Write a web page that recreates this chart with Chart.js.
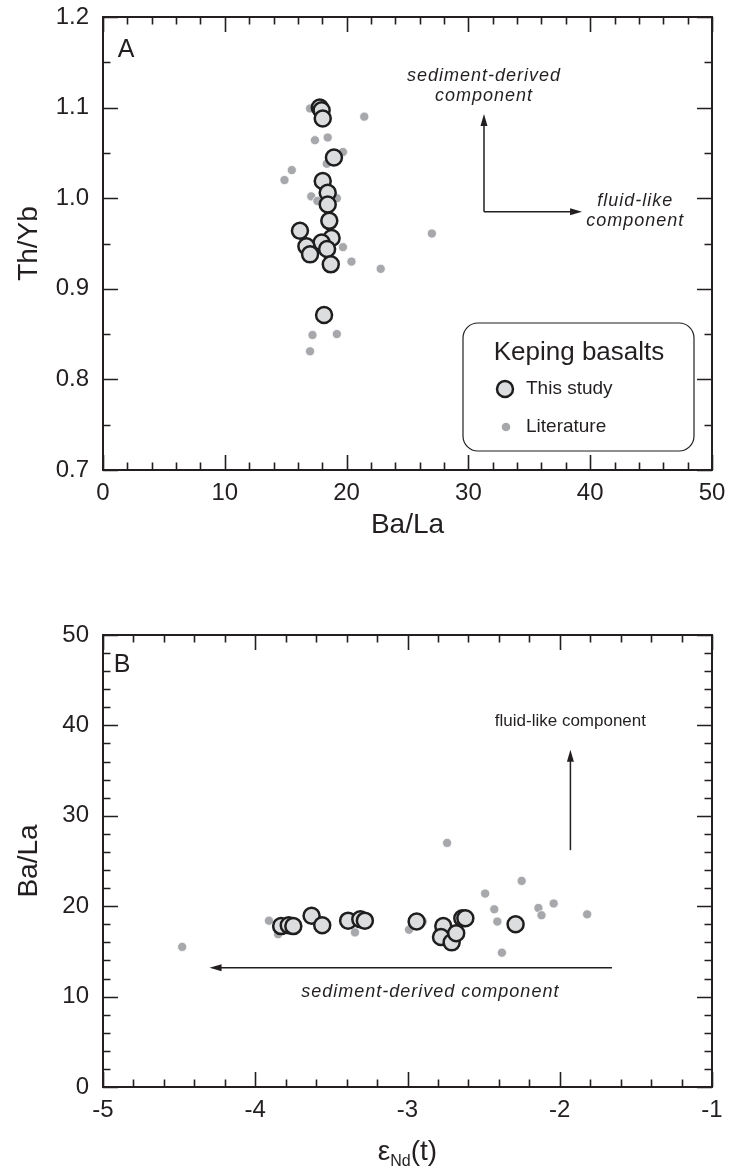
<!DOCTYPE html>
<html>
<head>
<meta charset="utf-8">
<script src="https://cdn.jsdelivr.net/npm/chart.js@4.4.1/dist/chart.umd.min.js"></script>
<style>
  body { margin: 0; background: #fff; }
  .panel { position: absolute; left: 0; width: 731px; }
</style>
</head>
<body>
<div class="panel" style="top:0;height:570px"><canvas id="chart-a"></canvas></div>
<div class="panel" style="top:590px;height:582px"><canvas id="chart-b"></canvas></div>
<script>
// Panel A: Th/Yb vs Ba/La
const studyBaLa = [17.8, 17.95, 18.04, 18.96, 18.04, 18.45, 18.45, 18.58, 16.17, 18.77, 17.95, 16.7, 18.4, 17.0, 18.7, 18.15];
const studyThYb = [1.100, 1.097, 1.088, 1.045, 1.019, 1.006, 0.993, 0.975, 0.964, 0.956, 0.951, 0.947, 0.944, 0.938, 0.927, 0.871];
const litBaLa = [17.0, 21.45, 17.4, 18.45, 19.7, 18.37, 15.5, 14.9, 17.1, 19.2, 17.6, 19.7, 20.4, 22.8, 27.0, 17.2, 19.2, 17.0];
const litThYb = [1.099, 1.090, 1.064, 1.067, 1.051, 1.038, 1.031, 1.020, 1.002, 1.000, 0.997, 0.946, 0.930, 0.922, 0.961, 0.849, 0.850, 0.831];

// Panel B: Ba/La vs eNd(t)
const studyEnd = [-3.83, -3.78, -3.75, -3.63, -3.56, -3.39, -3.31, -3.28, -2.94, -2.765, -2.78, -2.71, -2.68, -2.64, -2.62, -2.29];
const studyBaLaB = [17.8, 17.9, 17.8, 18.95, 17.9, 18.4, 18.55, 18.4, 18.3, 17.8, 16.6, 16.0, 17.0, 18.66, 18.66, 18.0];
const litEnd = [-4.48, -3.91, -3.85, -3.345, -2.74, -2.99, -2.9, -2.49, -2.25, -2.43, -2.41, -2.14, -2.12, -2.04, -1.82, -2.38, -2.26];
const litBaLaB = [15.5, 18.4, 16.9, 17.1, 27.0, 17.4, 18.3, 21.4, 22.8, 19.66, 18.3, 19.8, 19.0, 20.3, 19.1, 14.86, 17.8];

const ink = "#231f20";
const font = "'Liberation Sans', Arial, sans-serif";

function pairs(xs, ys) {
  return xs.map((x, i) => ({ x, y: ys[i] }));
}

function isMajor(v, step) {
  const r = v / step;
  return Math.abs(r - Math.round(r)) < 1e-6;
}

function studySet(data) {
  return {
    label: "This study",
    data,
    pointRadius: 8,
    pointBackgroundColor: "#dcddde",
    pointBorderColor: "#1e1e1e",
    pointBorderWidth: 2.5,
    showLine: false,
  };
}

function litSet(data) {
  return {
    label: "Literature",
    data,
    pointRadius: 4.6,
    pointBackgroundColor: "#a6a8ab",
    pointBorderColor: "#ffffff",
    pointBorderWidth: 0.8,
    showLine: false,
  };
}

function arrow(ctx, x1, y1, x2, y2) {
  const ang = Math.atan2(y2 - y1, x2 - x1);
  const len = 12, half = 3.5;
  ctx.beginPath();
  ctx.moveTo(x1, y1);
  ctx.lineTo(x2 - Math.cos(ang) * len * 0.8, y2 - Math.sin(ang) * len * 0.8);
  ctx.stroke();
  ctx.beginPath();
  ctx.moveTo(x2, y2);
  ctx.lineTo(x2 - Math.cos(ang) * len - Math.sin(ang) * half, y2 - Math.sin(ang) * len + Math.cos(ang) * half);
  ctx.lineTo(x2 - Math.cos(ang) * len + Math.sin(ang) * half, y2 - Math.sin(ang) * len - Math.cos(ang) * half);
  ctx.closePath();
  ctx.fill();
}

// frame plus inward major/minor ticks on all four sides
const frameTicks = {
  id: "frameTicks",
  afterDatasetsDraw(chart, args, opts) {
    const { ctx, chartArea: a, scales: { x, y } } = chart;
    ctx.save();
    ctx.strokeStyle = ink;
    ctx.lineWidth = 1.6;
    x.ticks.forEach((t) => {
      const px = Math.round(x.getPixelForValue(t.value)) + 0.5;
      const len = isMajor(t.value, opts.xMajor) ? 15 : 7.5;
      ctx.beginPath();
      ctx.moveTo(px, a.bottom); ctx.lineTo(px, a.bottom - len);
      ctx.moveTo(px, a.top); ctx.lineTo(px, a.top + len);
      ctx.stroke();
    });
    y.ticks.forEach((t) => {
      const py = Math.round(y.getPixelForValue(t.value)) + 0.5;
      const len = isMajor(t.value, opts.yMajor) ? 15 : 7.5;
      ctx.beginPath();
      ctx.moveTo(a.left, py); ctx.lineTo(a.left + len, py);
      ctx.moveTo(a.right, py); ctx.lineTo(a.right - len, py);
      ctx.stroke();
    });
    ctx.lineWidth = 2;
    ctx.strokeRect(a.left, a.top, a.right - a.left, a.bottom - a.top);
    ctx.restore();
  },
};

function label(ctx, text, x, y, size, italic, spacing) {
  ctx.font = `${italic ? "italic " : ""}${size}px ${font}`;
  ctx.letterSpacing = (spacing || 0) + "px";
  ctx.textAlign = "center";
  ctx.textBaseline = "middle";
  ctx.fillText(text, x, y);
  ctx.letterSpacing = "0px";
}

const notesA = {
  id: "notesA",
  afterDraw(chart) {
    const { ctx, chartArea: a, scales: { x, y } } = chart;
    ctx.save();
    ctx.fillStyle = ink;
    ctx.strokeStyle = ink;
    ctx.lineWidth = 1.5;
    label(ctx, "A", x.getPixelForValue(1.9), y.getPixelForValue(1.163), 25);

    const ax = x.getPixelForValue(31.28), ay = y.getPixelForValue(0.985);
    arrow(ctx, ax, ay, ax, y.getPixelForValue(1.093));
    arrow(ctx, ax, ay, x.getPixelForValue(39.33), ay);
    label(ctx, "sediment-derived", ax, y.getPixelForValue(1.135), 18, true, 1);
    label(ctx, "component", ax, y.getPixelForValue(1.113), 18, true, 1);
    label(ctx, "fluid-like", x.getPixelForValue(43.7), y.getPixelForValue(0.997), 18, true, 1);
    label(ctx, "component", x.getPixelForValue(43.7), y.getPixelForValue(0.975), 18, true, 1);

    // legend box
    const bx = a.right - 249, by = a.bottom - 147, bw = 231, bh = 128, r = 15;
    ctx.lineWidth = 1.2;
    ctx.beginPath();
    ctx.roundRect(bx, by, bw, bh, r);
    ctx.fillStyle = "#fff";
    ctx.fill();
    ctx.stroke();
    ctx.fillStyle = ink;
    label(ctx, "Keping basalts", bx + 116, by + 30, 26);
    ctx.beginPath();
    ctx.arc(bx + 42, by + 66, 8, 0, Math.PI * 2);
    ctx.fillStyle = "#dcddde";
    ctx.fill();
    ctx.lineWidth = 2.5;
    ctx.strokeStyle = "#1e1e1e";
    ctx.stroke();
    ctx.beginPath();
    ctx.arc(bx + 43, by + 104, 4.3, 0, Math.PI * 2);
    ctx.fillStyle = "#a6a8ab";
    ctx.fill();
    ctx.fillStyle = ink;
    ctx.font = `19px ${font}`;
    ctx.textAlign = "left";
    ctx.textBaseline = "middle";
    ctx.fillText("This study", bx + 63, by + 66);
    ctx.fillText("Literature", bx + 63, by + 104);
    ctx.restore();
  },
};

const notesB = {
  id: "notesB",
  afterDraw(chart) {
    const { ctx, chartArea: a, scales: { x, y } } = chart;
    ctx.save();
    ctx.fillStyle = ink;
    ctx.strokeStyle = ink;
    ctx.lineWidth = 1.5;
    label(ctx, "B", x.getPixelForValue(-4.875), y.getPixelForValue(46.7), 25);

    const vx = x.getPixelForValue(-1.93);
    arrow(ctx, vx, y.getPixelForValue(26.2), vx, y.getPixelForValue(37.3));
    label(ctx, "fluid-like component", vx, y.getPixelForValue(40.4), 17);
    const hy = y.getPixelForValue(13.2);
    arrow(ctx, x.getPixelForValue(-1.657), hy, x.getPixelForValue(-4.3), hy);
    label(ctx, "sediment-derived component", x.getPixelForValue(-2.85), y.getPixelForValue(10.5), 18, true, 1);

    // x title with subscript
    const cx = (a.left + a.right) / 2, ty = a.bottom + 63;
    ctx.textBaseline = "alphabetic";
    ctx.textAlign = "left";
    ctx.font = `28px ${font}`;
    const wE = ctx.measureText("\u03b5").width;
    const wT = ctx.measureText("(t)").width;
    ctx.font = `16px ${font}`;
    const wN = ctx.measureText("Nd").width;
    let px = cx - (wE + wN + wT) / 2;
    ctx.font = `28px ${font}`;
    ctx.fillText("\u03b5", px, ty + 10);
    px += wE;
    ctx.font = `16px ${font}`;
    ctx.fillText("Nd", px, ty + 16);
    px += wN;
    ctx.font = `28px ${font}`;
    ctx.fillText("(t)", px, ty + 10);
    ctx.restore();
  },
};

function axisOptions(min, max, step, major, digits, title, titlePad) {
  return {
    type: "linear",
    min, max,
    grid: { display: false, drawTicks: false },
    border: { display: false },
    ticks: {
      stepSize: step,
      autoSkip: false,
      maxRotation: 0,
      color: ink,
      font: { family: font, size: 24 },
      callback: (v) => (isMajor(v, major) ? Number(v).toFixed(digits) : ""),
    },
    title: {
      display: !!title,
      text: title,
      color: ink,
      font: { family: font, size: 28 },
      padding: titlePad,
    },
  };
}

// fixed axis boxes, label overhang ignored so the plot area lands where the layout padding says
function fixX(height) {
  return (s) => { s.height = height; s.paddingLeft = 0; s.paddingRight = 0; };
}
function fixY(width) {
  return (s) => { s.width = width; s.paddingTop = 0; s.paddingBottom = 0; };
}

Chart.defaults.animation = false;

const xA = axisOptions(0, 50, 2, 10, 0, "Ba/La", { top: 0, bottom: 28 });
xA.ticks.padding = 9;
xA.afterFit = fixX(100);
const yA = axisOptions(0.7, 1.2, 0.05, 0.1, 1, "Th/Yb", { top: 12, bottom: 0 });
yA.ticks.padding = 14;
yA.afterFit = fixY(103);

new Chart(document.getElementById("chart-a"), {
  type: "scatter",
  data: {
    datasets: [studySet(pairs(studyBaLa, studyThYb)), litSet(pairs(litBaLa, litThYb))],
  },
  options: {
    responsive: true,
    maintainAspectRatio: false,
    layout: { padding: { top: 17, right: 19, left: 0, bottom: 0 } },
    scales: { x: xA, y: yA },
    plugins: {
      legend: { display: false },
      tooltip: { enabled: false },
      frameTicks: { xMajor: 10, yMajor: 0.1 },
    },
  },
  plugins: [frameTicks, notesA],
});

const xB = axisOptions(-5, -1, 0.2, 1, 0, "", {});
xB.ticks.padding = 9;
xB.afterFit = fixX(85);
const yB = axisOptions(0, 50, 2, 10, 0, "Ba/La", { top: 12, bottom: 0 });
yB.ticks.padding = 14;
yB.afterFit = fixY(103);

new Chart(document.getElementById("chart-b"), {
  type: "scatter",
  data: {
    datasets: [studySet(pairs(studyEnd, studyBaLaB)), litSet(pairs(litEnd, litBaLaB))],
  },
  options: {
    responsive: true,
    maintainAspectRatio: false,
    layout: { padding: { top: 45, right: 19, left: 0, bottom: 0 } },
    scales: { x: xB, y: yB },
    plugins: {
      legend: { display: false },
      tooltip: { enabled: false },
      frameTicks: { xMajor: 1, yMajor: 10 },
    },
  },
  plugins: [frameTicks, notesB],
});
</script>
</body>
</html>
